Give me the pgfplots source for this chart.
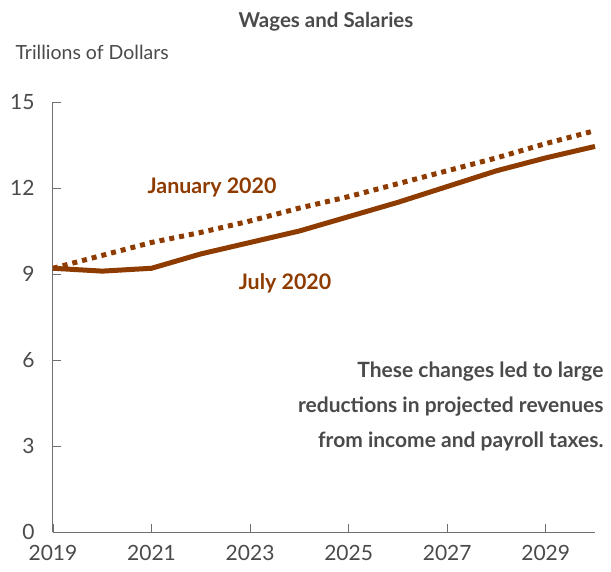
\documentclass[border=0pt]{standalone}
\usepackage{pgfplots}
\pgfplotsset{compat=1.18}
\usepackage{fontspec}
\setmainfont{Lato}
\definecolor{brn}{HTML}{8E3B00}
\definecolor{txt}{HTML}{4A4A4A}
\definecolor{axc}{HTML}{707070}
\begin{document}
\begin{tikzpicture}
\begin{axis}[
  scale only axis, width=542pt, height=430pt,
  xmin=2019, xmax=2030, ymin=0, ymax=15,
  axis lines*=left,
  axis line style={axc, line width=1pt},
  xtick={2019,2021,...,2029}, ytick={0,3,...,15},
  tick align=inside, major tick length=8pt,
  tick style={axc, line width=0.8pt},
  x tick label style={/pgf/number format/1000 sep={}},
  /pgf/number format/assume math mode=true,
  tick label style={font=\fontsize{21}{21}\selectfont, text=txt},
  xticklabel style={yshift=-10pt},
  yticklabel style={xshift=-15pt},
  clip=false,
]
\addplot[brn, line width=5pt, dash pattern=on 5pt off 5pt, line cap=butt] coordinates {
(2019,9.2) (2020,9.65) (2021,10.1) (2022,10.45) (2023,10.85) (2024,11.3) (2025,11.7) (2026,12.15) (2027,12.6) (2028,13.05) (2029,13.55) (2030,14.0)};
\addplot[brn, line width=5pt, line join=round] coordinates {
(2019,9.2) (2020,9.1) (2021,9.2) (2022,9.7) (2023,10.1) (2024,10.5) (2025,11.0) (2026,11.5) (2027,12.05) (2028,12.6) (2029,13.05) (2030,13.45)};
\end{axis}
\node[font=\bfseries\fontsize{20.5}{20.5}\selectfont, text=txt] at (273pt,510pt) {Wages and Salaries};
\node[anchor=west, font=\fontsize{19.5}{19.5}\selectfont, text=txt] at (-41pt,480pt) {Trillions of Dollars};
\node[font=\bfseries\fontsize{21.4}{21.4}\selectfont, text=brn] at (159pt,345pt) {January 2020};
\node[font=\bfseries\fontsize{21.4}{21.4}\selectfont, text=brn] at (232pt,249pt) {July 2020};
\node[anchor=east, align=right, font=\bfseries\fontsize{21}{35}\selectfont, text=txt] at (554pt,126pt) {These changes led to large\\reductions in projected revenues\\from income and payroll taxes.};
\useasboundingbox (-53pt,-39pt) rectangle (558pt,532pt);
\end{tikzpicture}
\end{document}
